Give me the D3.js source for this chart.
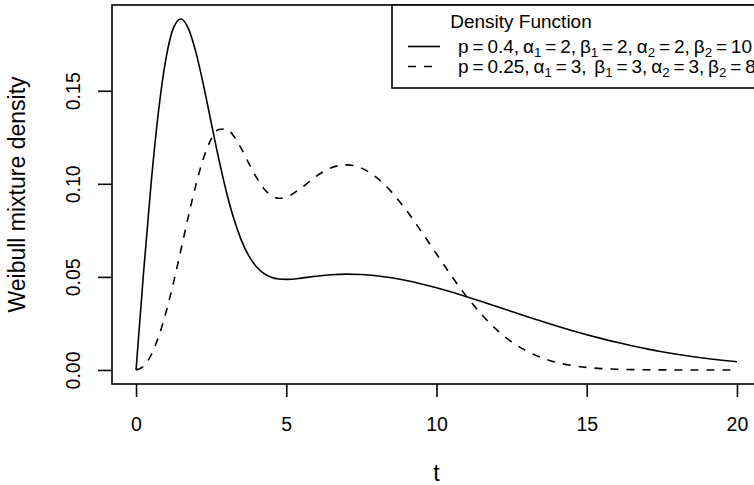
<!DOCTYPE html>
<html>
<head>
<meta charset="utf-8">
<script src="https://cdn.jsdelivr.net/npm/d3@7"></script>
<style>
  html, body { margin: 0; padding: 0; background: #fff; }
  svg { display: block; }
  text { font-family: "Liberation Sans", Arial, Helvetica, sans-serif; fill: #000; }
</style>
</head>
<body>
<svg id="chart" width="754" height="485"></svg>
<script>
// ---- data ----
const tValues = [0,0.25,0.5,0.75,1,1.25,1.5,1.75,2,2.25,2.5,2.75,3,3.25,3.5,3.75,4,4.25,4.5,4.75,5,
  5.5,6,6.5,7,7.5,8,8.5,9,9.5,10,10.5,11,11.5,12,12.5,13,13.5,14,14.5,15,15.5,16,16.5,17,17.5,18,18.5,19,19.5,20];
const solidDensity = [0,0.05222,0.09993,0.13927,0.16764,0.18393,0.18853,0.18313,0.17021,0.15260,0.13299,0.11364,0.09614,0.08145,0.06990,0.06139,0.05556,0.05187,0.04980,0.04886,0.04866,
  0.04934,0.05038,0.05116,0.05147,0.05128,0.05062,0.04953,0.04804,0.04623,0.04415,0.04184,0.03936,0.03677,0.03412,0.03144,0.02878,0.02618,0.02366,0.02125,0.01897,0.01683,0.01484,0.01301,0.01134,0.00982,0.00846,0.00724,0.00617,0.00522,0.00440];
const dashedDensity = [0,0.00201,0.00801,0.01785,0.03115,0.04721,0.06498,0.08307,0.09992,0.11398,0.12397,0.12915,0.12949,0.12569,0.11904,0.11115,0.10358,0.09754,0.09373,0.09226,0.09284,
  0.09783,0.10409,0.10864,0.11020,0.10844,0.10347,0.09568,0.08571,0.07431,0.06233,0.05051,0.03951,0.02981,0.02165,0.01514,0.01017,0.00656,0.00405,0.00240,0.00136,0.00073,0.00038,0.00019,0.00009,0.00004,0.00002,0.00001,0,0,0];
const xTicks = [0, 5, 10, 15, 20];
const yTicks = [0.00, 0.05, 0.10, 0.15];
const yTickLabels = ["0.00", "0.05", "0.10", "0.15"];
const legendTitle = "Density Function";
const legendLabels = [
  "p = 0.4, α_1 = 2, β_1 = 2, α_2 = 2, β_2 = 10",
  "p = 0.25, α_1 = 3,  β_1 = 3, α_2 = 3, β_2 = 8"
];
const legendDash = ["none", "8,8"];
const xLabel = "t";
const yLabel = "Weibull mixture density";

// ---- layout ----
const svg = d3.select("#chart");
const plot = { left: 112, right: 761, top: 5, bottom: 384 };
const FS_TICK = 19.5;
const FS_LAB = 23;
const FS_LEG = 19;
const FONT = '"Liberation Sans", Arial, sans-serif';

const allY = solidDensity.concat(dashedDensity);
const yMin = d3.min(allY), yMax = d3.max(allY);
const yPad = (yMax - yMin) * 0.04;
const xMin = d3.min(tValues), xMax = d3.max(tValues);
const xPad = (xMax - xMin) * 0.04;

const x = d3.scaleLinear().domain([xMin - xPad, xMax + xPad]).range([plot.left, plot.right]);
const y = d3.scaleLinear().domain([yMin - yPad, yMax + yPad]).range([plot.bottom, plot.top]);

svg.append("rect").attr("width", 754).attr("height", 485).attr("fill", "#fff");

const SW = 1.6;

// curves
const line = d3.line().x(d => x(d[0])).y(d => y(d[1])).curve(d3.curveMonotoneX);
const series = [solidDensity, dashedDensity];
series.forEach((vals, i) => {
  svg.append("path")
    .datum(tValues.map((t, j) => [t, vals[j]]))
    .attr("d", line)
    .attr("fill", "none")
    .attr("stroke", "#000")
    .attr("stroke-width", SW)
    .attr("stroke-dasharray", legendDash[i]);
});

// plot box
svg.append("rect")
  .attr("x", plot.left).attr("y", plot.top)
  .attr("width", plot.right - plot.left).attr("height", plot.bottom - plot.top)
  .attr("fill", "none").attr("stroke", "#000").attr("stroke-width", SW);

// x axis
const xAxis = d3.axisBottom(x).tickValues(xTicks).tickSize(13).tickPadding(0).tickFormat(d3.format("d"));
const gx = svg.append("g").attr("transform", `translate(0,${plot.bottom})`).call(xAxis);
gx.select(".domain").remove();
gx.selectAll(".tick line").attr("stroke", "#000").attr("stroke-width", SW);
gx.selectAll(".tick text").attr("font-size", FS_TICK).attr("y", 47).attr("dy", null).attr("fill", "#000")
  .style("font-family", FONT);

// y axis
const yAxis = d3.axisLeft(y).tickValues(yTicks).tickSize(14).tickFormat((d, i) => yTickLabels[i]);
const gy = svg.append("g").attr("transform", `translate(${plot.left},0)`).call(yAxis);
gy.select(".domain").remove();
gy.selectAll(".tick line").attr("stroke", "#000").attr("stroke-width", SW);
gy.selectAll(".tick text")
  .attr("font-size", FS_TICK).attr("fill", "#000")
  .attr("x", null).attr("dy", null)
  .attr("text-anchor", "middle")
  .attr("transform", "translate(-32.5,0) rotate(-90)")
  .style("font-family", FONT);

// axis titles
svg.append("text")
  .attr("x", (plot.left + plot.right) / 2).attr("y", 481)
  .attr("text-anchor", "middle").attr("font-size", FS_LAB).text(xLabel);
svg.append("text")
  .attr("transform", `translate(25,${(plot.top + plot.bottom) / 2}) rotate(-90)`)
  .attr("text-anchor", "middle").attr("font-size", FS_LAB).text(yLabel);

// legend
const leg = { left: 392, top: plot.top, bottom: 88 };
svg.append("rect")
  .attr("x", leg.left).attr("y", leg.top)
  .attr("width", 800 - leg.left).attr("height", leg.bottom - leg.top)
  .attr("fill", "#fff").attr("stroke", "#000").attr("stroke-width", SW);
svg.append("text").attr("x", 521).attr("y", 27.5).attr("text-anchor", "middle")
  .attr("font-size", FS_LEG).text(legendTitle);

const rowY = [46.5, 66.5];
const textStart = 458, row1End = 752;
const rows = [];
legendLabels.forEach((lab, i) => {
  svg.append("line")
    .attr("x1", 408).attr("x2", 440).attr("y1", rowY[i]).attr("y2", rowY[i])
    .attr("stroke", "#000").attr("stroke-width", SW)
    .attr("stroke-dasharray", legendDash[i]);
  const txt = svg.append("text")
    .attr("x", textStart).attr("y", rowY[i] + 6.5)
    .attr("font-size", FS_LEG)
    .style("white-space", "pre");
  const parts = lab.split(/_(\d)/);
  let shifted = false;
  parts.forEach((p, k) => {
    if (k % 2 === 1) {
      txt.append("tspan").attr("font-size", FS_LEG * 0.7).attr("dy", 4).text(p);
      shifted = true;
    } else if (p.length) {
      const ts = txt.append("tspan").text(p);
      if (shifted) { ts.attr("dy", -4); shifted = false; }
    }
  });
  rows.push({ node: txt, label: lab });
});
// tighten spaces like R plotmath so the first row ends where the reference's does
const natural = rows[0].node.node().getComputedTextLength();
const nSpaces = (rows[0].label.match(/ /g) || []).length;
const ws = (row1End - textStart - natural) / nSpaces;
rows.forEach(r => r.node.style("word-spacing", ws + "px"));
</script>
</body>
</html>
